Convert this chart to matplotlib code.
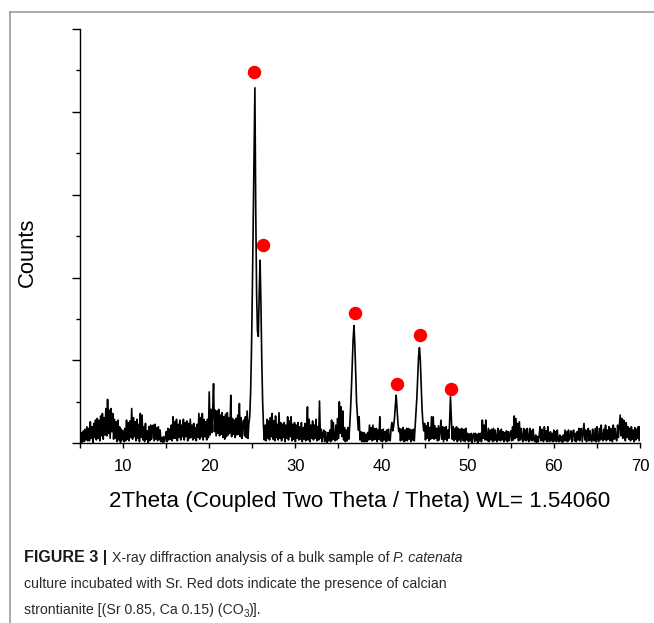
import numpy as np
import matplotlib.pyplot as plt
from matplotlib import font_manager
from matplotlib.lines import Line2D
from matplotlib.ticker import MultipleLocator

plt.rcParams['font.family'] = ['Liberation Sans', 'DejaVu Sans']

# intensity, 0.1 deg steps from 5.0 to 70.0 (one row per degree)
counts = [
    30, 130, 10, 90, 150, 20, 170, 40, 200, 30,            # 5
    180, 30, 260, 60, 200, 10, 240, 70, 280, 40,           # 6
    300, 60, 280, 30, 330, 90, 360, 50, 310, 100,          # 7
    420, 90, 530, 120, 400, 60, 420, 140, 360, 50,         # 8
    290, 60, 260, 20, 280, 40, 200, 10, 170, 40,           # 9
    150, 20, 180, 30, 280, 50, 250, 30, 270, 70,           # 10
    420, 50, 310, 80, 260, 30, 290, 60, 230, 20,           # 11
    360, 70, 340, 40, 200, 20, 240, 50, 150, 10,           # 12
    200, 30, 220, 50, 160, 220, 30, 230, 50, 190,          # 13
    30, 200, 40, 160, 20, 70, 10, 80, 20, 60,              # 14
    140, 20, 180, 40, 170, 50, 220, 30, 320, 60,           # 15
    260, 60, 290, 30, 230, 70, 280, 40, 220, 80,           # 16
    290, 40, 250, 80, 270, 30, 240, 60, 290, 70,           # 17
    220, 40, 240, 60, 190, 30, 230, 70, 360, 50,           # 18
    310, 80, 360, 40, 290, 80, 260, 40, 290, 70,           # 19
    620, 100, 410, 130, 380, 720, 140, 400, 90, 390,       # 20
    120, 410, 90, 340, 110, 370, 70, 320, 50, 350,         # 21
    80, 370, 100, 310, 120, 580, 80, 300, 110, 280,        # 22
    70, 300, 100, 340, 110, 480, 80, 310, 60, 240,         # 23
    280, 90, 320, 70, 390, 60, 240, 320, 600, 1100,        # 24
    1800, 2600, 3500, 4290, 2800, 1800, 1350, 1290, 1800, 2210,  # 25
    1700, 1000, 500, 200, 40, 220, 30, 290, 60, 270,       # 26
    40, 310, 80, 360, 50, 270, 30, 330, 70, 230,           # 27
    40, 370, 60, 250, 30, 230, 70, 250, 20, 220,           # 28
    60, 320, 40, 270, 80, 320, 30, 230, 50, 250,           # 29
    20, 220, 60, 250, 40, 200, 50, 250, 20, 190,           # 30
    50, 240, 30, 180, 440, 40, 290, 20, 220, 60,           # 31
    270, 40, 220, 60, 290, 30, 200, 40, 510, 60,           # 32
    170, 20, 120, 160, 20, 140, 40, 10, 130, 30,           # 33
    160, 20, 280, 40, 250, 60, 30, 220, 40, 300,           # 34
    60, 500, 120, 440, 80, 390, 40, 190, 20, 160,          # 35
    30, 190, 50, 200, 400, 650, 950, 1250, 1420, 1200,     # 36
    850, 500, 320, 160, 320, 40, 140, 20, 130, 20,         # 37
    130, 20, 110, 20, 130, 40, 220, 50, 190, 30,           # 38
    220, 40, 180, 50, 180, 20, 160, 50, 320, 30,           # 39
    160, 20, 170, 40, 140, 20, 160, 30, 170, 50,           # 40
    30, 170, 250, 150, 200, 300, 450, 580, 420, 250,       # 41
    140, 180, 30, 170, 40, 190, 20, 160, 30, 180,          # 42
    30, 180, 50, 170, 20, 160, 40, 170, 30, 200,           # 43
    350, 550, 800, 1050, 1155, 1000, 700, 420, 250, 150,   # 44
    240, 40, 210, 60, 250, 30, 190, 50, 320, 60,           # 45
    320, 50, 210, 60, 180, 30, 210, 40, 160, 280,          # 46
    50, 200, 20, 190, 50, 200, 30, 160, 60, 250,           # 47
    560, 300, 50, 200, 30, 180, 50, 200, 20, 180,          # 48
    40, 170, 20, 180, 60, 30, 170, 20, 180, 40,            # 49
    120, 20, 110, 30, 120, 10, 100, 120, 20, 120,          # 50
    30, 110, 10, 120, 30, 120, 20, 280, 60, 220,           # 51
    40, 280, 60, 30, 180, 20, 160, 40, 170, 20,            # 52
    180, 30, 160, 50, 20, 180, 40, 150, 30, 170,           # 53
    40, 140, 20, 130, 40, 150, 20, 140, 30, 120,           # 54
    150, 30, 200, 40, 330, 60, 300, 70, 240, 30,           # 55
    260, 40, 180, 60, 20, 180, 40, 160, 30, 180,           # 56
    50, 20, 180, 40, 150, 30, 170, 40, 20, 100,            # 57
    10, 80, 20, 100, 200, 30, 170, 50, 20, 200,            # 58
    40, 150, 20, 200, 50, 20, 140, 30, 120, 20,            # 59
    160, 30, 140, 20, 160, 40, 20, 100, 30, 80,            # 60
    10, 100, 30, 160, 30, 140, 20, 160, 40, 80,            # 61
    150, 20, 130, 160, 30, 120, 20, 140, 40, 180,          # 62
    30, 150, 180, 20, 130, 240, 40, 160, 20, 130,          # 63
    180, 30, 150, 40, 20, 170, 50, 30, 180, 20,            # 64
    200, 50, 20, 180, 40, 220, 60, 30, 170, 50,            # 65
    220, 30, 160, 50, 200, 30, 180, 60, 20, 220,           # 66
    50, 180, 60, 30, 220, 70, 200, 340, 90, 300,           # 67
    60, 280, 220, 30, 250, 70, 200, 50, 180, 30,           # 68
    200, 50, 160, 20, 190, 40, 170, 60, 200, 30,           # 69
    200,                                                   # 70
]
two_theta = np.linspace(5, 70, len(counts))

# red dots marking calcian strontianite reflections
dot_theta = [25.22, 26.19, 36.87, 41.74, 44.44, 48.12]
dot_counts = [4480, 2390, 1570, 710, 1310, 660]

x_label = "2Theta (Coupled Two Theta / Theta) WL= 1.54060"
y_label = "Counts"

W, H = 654, 623
fig = plt.figure(figsize=(W / 100, H / 100), dpi=100)

# thin grey frame around the figure panel (top and left edge)
frame = '#999999'
fig.add_artist(Line2D([9.5 / W, 1], [1 - 11.5 / H, 1 - 11.5 / H], color=frame, lw=1.2,
                      transform=fig.transFigure))
fig.add_artist(Line2D([9.5 / W, 9.5 / W], [1 - 11.5 / H, 0], color=frame, lw=1.2,
                      transform=fig.transFigure))

ax = fig.add_axes([80 / W, 1 - 443.3 / H, 560 / W, (443.3 - 29) / H])
ax.plot(two_theta, counts, color='black', lw=1.2)
ax.scatter(dot_theta, dot_counts, s=75, color='#ff0000', zorder=5, clip_on=False)

ax.set_xlim(5, 70)
ax.set_ylim(0, 5000)
for side in ['top', 'right']:
    ax.spines[side].set_visible(False)
for side in ['left', 'bottom']:
    ax.spines[side].set_linewidth(1.0)

ax.xaxis.set_major_locator(MultipleLocator(10))
ax.xaxis.set_minor_locator(MultipleLocator(5))
ax.yaxis.set_major_locator(MultipleLocator(1000))
ax.yaxis.set_minor_locator(MultipleLocator(500))
ax.tick_params(axis='x', which='both', direction='out', length=3.5, width=1.0,
               labelsize=12, pad=8)
ax.tick_params(axis='y', which='major', direction='out', length=6, width=1.0, labelleft=False)
ax.tick_params(axis='y', which='minor', direction='out', length=3, width=1.0)

fig.text(360 / W, 1 - 507 / H, x_label, fontsize=16.1, ha='center', va='baseline')
fig.text(27 / W, 1 - 252 / H, y_label, fontsize=15.8, rotation=90, ha='center', va='center')

# caption, written as runs of differently styled text
installed = {f.name for f in font_manager.fontManager.ttflist}
if 'Liberation Sans Narrow' in installed:
    cap_font, cap_size = 'Liberation Sans Narrow', 12.4
else:
    cap_font, cap_size = 'Liberation Sans', 10.2
cap_color = '#2a2a2a'
renderer = fig.canvas.get_renderer()


def run_width(s, **kw):
    a = fig.text(0, 0, '|' + s + '|', **kw)
    b = fig.text(0, 0, '||', **kw)
    w = a.get_window_extent(renderer).width - b.get_window_extent(renderer).width
    a.remove()
    b.remove()
    return w


def put_runs(x_px, y_px, runs):
    for s, kw in runs:
        style = dict(family=cap_font, fontsize=cap_size, color=cap_color)
        style.update(kw)
        dy = style.pop('rise', 0)
        fig.text(x_px / W, 1 - (y_px - dy) / H, s, ha='left', va='baseline', **style)
        x_px += run_width(s, **style)


put_runs(24, 562, [("FIGURE 3 | ", dict(family='Liberation Sans', fontsize=11.5,
                                          weight='bold', color='#1a1a1a')),
                   ("X-ray diffraction analysis of a bulk sample of ", {}),
                   ("P. catenata", dict(style='italic'))])
put_runs(24, 588, [("culture incubated with Sr. Red dots indicate the presence of calcian", {})])
put_runs(24, 614, [("strontianite [(Sr 0.85, Ca 0.15) (CO", {}),
                   ("3", dict(fontsize=cap_size * 0.7, rise=-3)),
                   (")].", {})])

fig.savefig('out.png', dpi=100)
